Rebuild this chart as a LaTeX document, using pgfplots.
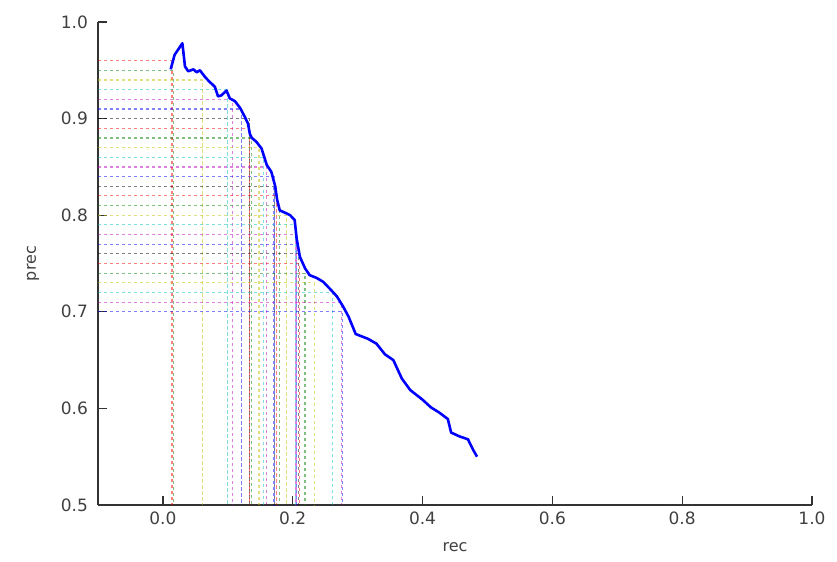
\documentclass[border=0pt]{standalone}
\usepackage{fontspec}
\setmainfont{DejaVu Sans}
\usepackage{pgfplots}
\pgfplotsset{compat=1.18}
\definecolor{mb}{rgb}{0,0,1}
\definecolor{mg}{rgb}{0,0.5,0}
\definecolor{mr}{rgb}{1,0,0}
\definecolor{mc}{rgb}{0,0.75,0.75}
\definecolor{mm}{rgb}{0.75,0,0.75}
\definecolor{my}{rgb}{0.75,0.75,0}
\definecolor{mk}{rgb}{0,0,0}
\begin{document}
\begin{tikzpicture}
\useasboundingbox (0,0) rectangle (418.5pt,281pt);
\begin{axis}[
  at={(49pt,28.5pt)}, anchor=south west,
  scale only axis, width=357pt, height=241.5pt,
  xmin=-0.1, xmax=1.0, ymin=0.5, ymax=1.0,
  axis x line=bottom, axis y line=left,
  axis line style={-, line width=0.9pt, black!80},
  xtick={0,0.2,0.4,0.6,0.8,1.0},
  ytick={0.5,0.6,0.7,0.8,0.9,1.0},
  tick align=inside, major tick length=4.5pt,
  tick style={black!80, line width=0.6pt},
  /pgf/number format/.cd, fixed, fixed zerofill, precision=1, assume math mode=true,
  /pgfplots/.cd,
  ticklabel style={font=\fontsize{8.5}{10}\selectfont, text=black!75},
  yticklabel style={xshift=-1.5pt},
  xlabel={rec}, ylabel={prec},
  label style={font=\fontsize{8}{10}\selectfont, text=black!75},
  xlabel style={at={(axis description cs:0.5,-0.087)}, anchor=center},
  ylabel style={at={(axis description cs:-0.091,0.5)}, anchor=center},
  clip=false,
]
\pgfplotsset{thr/.style={line width=0.6pt, opacity=0.5, dash pattern=on 1.6pt off 1.4pt}}
\addplot[thr, mr] coordinates {(-0.1,0.96) (0.014,0.96) (0.014,0.5)};
\addplot[thr, mg] coordinates {(-0.1,0.95) (0.016,0.95) (0.016,0.5)};
\addplot[thr, my] coordinates {(-0.1,0.94) (0.061,0.94) (0.061,0.5)};
\addplot[thr, mc] coordinates {(-0.1,0.93) (0.099,0.93) (0.099,0.5)};
\addplot[thr, mm] coordinates {(-0.1,0.92) (0.107,0.92) (0.107,0.5)};
\addplot[thr, mb] coordinates {(-0.1,0.91) (0.121,0.91) (0.121,0.5)};
\addplot[thr, mk] coordinates {(-0.1,0.90) (0.133,0.90) (0.133,0.5)};
\addplot[thr, mr] coordinates {(-0.1,0.89) (0.134,0.89) (0.134,0.5)};
\addplot[thr, mg] coordinates {(-0.1,0.88) (0.136,0.88) (0.136,0.5)};
\addplot[thr, my] coordinates {(-0.1,0.87) (0.148,0.87) (0.148,0.5)};
\addplot[thr, mc] coordinates {(-0.1,0.86) (0.155,0.86) (0.155,0.5)};
\addplot[thr, mm] coordinates {(-0.1,0.85) (0.160,0.85) (0.160,0.5)};
\addplot[thr, mb] coordinates {(-0.1,0.84) (0.171,0.84) (0.171,0.5)};
\addplot[thr, mk] coordinates {(-0.1,0.83) (0.172,0.83) (0.172,0.5)};
\addplot[thr, mr] coordinates {(-0.1,0.82) (0.175,0.82) (0.175,0.5)};
\addplot[thr, mg] coordinates {(-0.1,0.81) (0.180,0.81) (0.180,0.5)};
\addplot[thr, my] coordinates {(-0.1,0.80) (0.191,0.80) (0.191,0.5)};
\addplot[thr, mc] coordinates {(-0.1,0.79) (0.204,0.79) (0.204,0.5)};
\addplot[thr, mm] coordinates {(-0.1,0.78) (0.205,0.78) (0.205,0.5)};
\addplot[thr, mb] coordinates {(-0.1,0.77) (0.206,0.77) (0.206,0.5)};
\addplot[thr, mk] coordinates {(-0.1,0.76) (0.209,0.76) (0.209,0.5)};
\addplot[thr, mr] coordinates {(-0.1,0.75) (0.210,0.75) (0.210,0.5)};
\addplot[thr, mg] coordinates {(-0.1,0.74) (0.219,0.74) (0.219,0.5)};
\addplot[thr, my] coordinates {(-0.1,0.73) (0.233,0.73) (0.233,0.5)};
\addplot[thr, mc] coordinates {(-0.1,0.72) (0.261,0.72) (0.261,0.5)};
\addplot[thr, mm] coordinates {(-0.1,0.71) (0.275,0.71) (0.275,0.5)};
\addplot[thr, mb] coordinates {(-0.1,0.70) (0.277,0.70) (0.277,0.5)};
\addplot[blue, line width=1.3pt, line join=round] coordinates {
(0.012,0.951) (0.018,0.966) (0.030,0.978) (0.034,0.954) (0.039,0.949)
(0.047,0.951) (0.052,0.948) (0.057,0.950) (0.065,0.943) (0.072,0.938)
(0.080,0.933) (0.085,0.923) (0.090,0.924) (0.098,0.929) (0.103,0.921)
(0.111,0.918) (0.119,0.911) (0.126,0.902) (0.131,0.895) (0.134,0.884)
(0.137,0.880) (0.144,0.876) (0.152,0.869) (0.160,0.852) (0.167,0.845)
(0.173,0.830) (0.176,0.816) (0.180,0.805) (0.190,0.802) (0.196,0.800)
(0.203,0.795) (0.206,0.776) (0.211,0.757) (0.219,0.745) (0.226,0.738)
(0.237,0.735) (0.247,0.731) (0.257,0.724) (0.268,0.716) (0.278,0.705)
(0.286,0.695) (0.297,0.677) (0.316,0.672) (0.329,0.667) (0.342,0.656)
(0.355,0.650) (0.368,0.631) (0.381,0.619) (0.400,0.609) (0.413,0.601)
(0.425,0.596) (0.439,0.589) (0.444,0.575) (0.457,0.571) (0.470,0.568)
(0.478,0.557) (0.484,0.550)};
\end{axis}
\end{tikzpicture}
\end{document}
